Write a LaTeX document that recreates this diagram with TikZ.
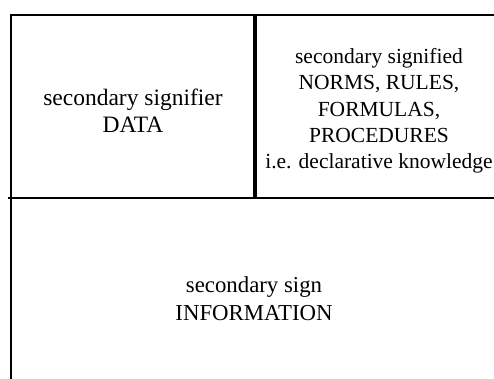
\documentclass[tikz,border=0pt]{standalone}
\usepackage{fontspec}
\setmainfont{Liberation Serif}
\begin{document}
\begin{tikzpicture}[x=1pt,y=-1pt,
  rule/.style={line width=2pt,line cap=rect},
  divider/.style={line width=3.5pt},
  cell/.style={align=center,inner sep=0pt}]
  \useasboundingbox (0,0) rectangle (494,379);
  % frame lines
  \coordinate (tl) at (10.5,15);
  \coordinate (tr) at (493,15);
  \coordinate (bl) at (10.5,379);
  \coordinate (mt) at (255,15);
  \coordinate (mb) at (255,197);
  \coordinate (hl) at (8,198);
  \coordinate (hr) at (494,198);
  \draw[rule] (tl) -- (tr);
  \draw[rule] (tl) -- (bl);
  \draw[divider] (mt) -- (mb);
  \draw[line width=2.5pt] (hl) -- (hr);
  % cell texts
  \node[cell,font=\fontsize{23.5}{27.5}\selectfont] (signifier) at (133,111) {secondary signifier\\DATA};
  \node[cell,font=\fontsize{21.5}{26.3}\selectfont] (signified) at (379,111) {secondary signified\\NORMS, RULES,\\FORMULAS,\\PROCEDURES\\i.e. declarative knowledge};
  \node[cell,font=\fontsize{22.8}{28}\selectfont] (sign) at (254,299) {secondary sign\\INFORMATION};
\end{tikzpicture}
\end{document}
